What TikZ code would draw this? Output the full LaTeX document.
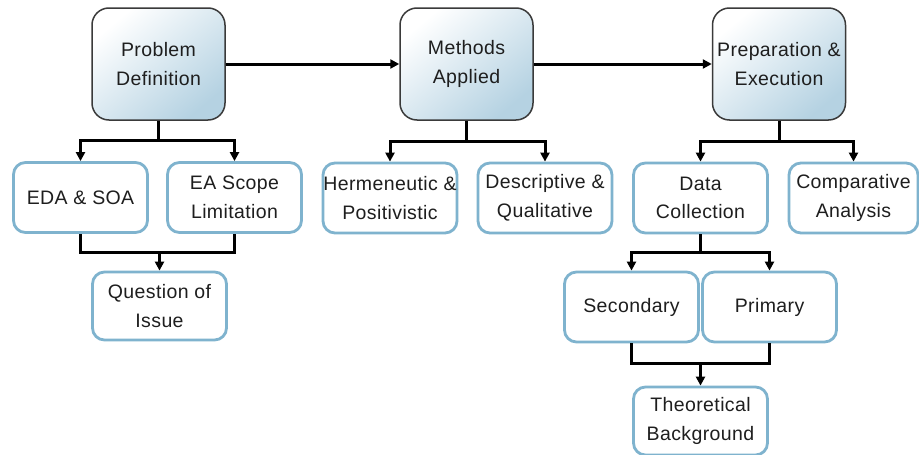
\documentclass[tikz,border=0pt]{standalone}
\usepackage{fontspec}
\setmainfont{Liberation Sans}[LetterSpace=2]
\usetikzlibrary{arrows.meta}
\definecolor{topfill}{HTML}{B5D2E2}
\definecolor{topedge}{HTML}{3A3A3A}
\definecolor{subedge}{HTML}{7FB3CE}
\definecolor{txt}{HTML}{1E1E1E}
\begin{document}
\begin{tikzpicture}[x=1pt,y=-1pt,
  every node/.style={font=\fontsize{19.5}{28.5}\selectfont, text=txt, align=center, inner sep=0pt},
  mainbox/.style={draw=topedge, line width=1.5pt, rounded corners=17pt,
    shading=axis, top color=white, bottom color=topfill, shading angle=40,
    minimum width=133pt, minimum height=112pt},
  subbox/.style={draw=subedge, line width=2.8pt, rounded corners=12pt, fill=white,
    minimum width=134pt, minimum height=70pt},
  ln/.style={draw=black, line width=3pt},
  arr/.style={ln, -{Triangle[length=9pt,width=9pt]}},
]
\useasboundingbox (0,0) rectangle (919,455);
\fill[white] (0,0) rectangle (919,455);

% top row
\node[mainbox] (pd) at (158.5,64) {Problem\\Definition};
\node[mainbox] (ma) at (466.5,64) {Methods\\Applied};
\node[mainbox] (pe) at (779,64) {Preparation \&\\Execution};

% second row
\node[subbox] (eda) at (80.5,197.5) {EDA \& SOA};
\node[subbox] (ea) at (234.5,197.5) {EA Scope\\Limitation};
\node[subbox] (hp) at (390,198) {Hermeneutic \&\\Positivistic};
\node[subbox] (dq) at (545,198) {Descriptive \&\\Qualitative};
\node[subbox] (dc) at (700.5,198) {Data\\Collection};
\node[subbox, minimum width=129pt] (ca) at (853.5,198) {Comparative\\Analysis};

% lower rows
\node[subbox, minimum height=68pt] (qi) at (159.5,306) {Question of\\Issue};
\node[subbox] (sec) at (631.5,307) {Secondary};
\node[subbox] (pri) at (769.5,307) {Primary};
\node[subbox, minimum height=68pt] (tb) at (700.5,421) {Theoretical\\Background};

% main flow
\draw[arr] (pd.east) -- (ma.west);
\draw[arr] (ma.east) -- (pe.west);

% branches from the top row
\coordinate (j1) at (pd.south |- 0,140);
\draw[ln] (pd.south) -- (j1);
\draw[arr] (j1) -| (eda.north);
\draw[arr] (j1) -| (ea.north);

\coordinate (j2) at (ma.south |- 0,141);
\draw[ln] (ma.south) -- (j2);
\draw[arr] (j2) -| (hp.north);
\draw[arr] (j2) -| (dq.north);

\coordinate (j3) at (pe.south |- 0,141);
\draw[ln] (pe.south) -- (j3);
\draw[arr] (j3) -| (dc.north);
\draw[arr] (j3) -| (ca.north);

% merge into the question of issue
\coordinate (m1) at (qi.north |- 0,252);
\draw[ln] (eda.south) -- (eda.south |- m1) -- (ea.south |- m1) -- (ea.south);
\draw[arr] (m1) -- (qi.north);

% data collection sources
\coordinate (j4) at (dc.south |- 0,252);
\draw[ln] (dc.south) -- (j4);
\draw[arr] (j4) -| (sec.north);
\draw[arr] (j4) -| (pri.north);

\coordinate (m2) at (tb.north |- 0,363);
\draw[ln] (sec.south) -- (sec.south |- m2) -- (pri.south |- m2) -- (pri.south);
\draw[arr] (m2) -- (tb.north);
\end{tikzpicture}
\end{document}
